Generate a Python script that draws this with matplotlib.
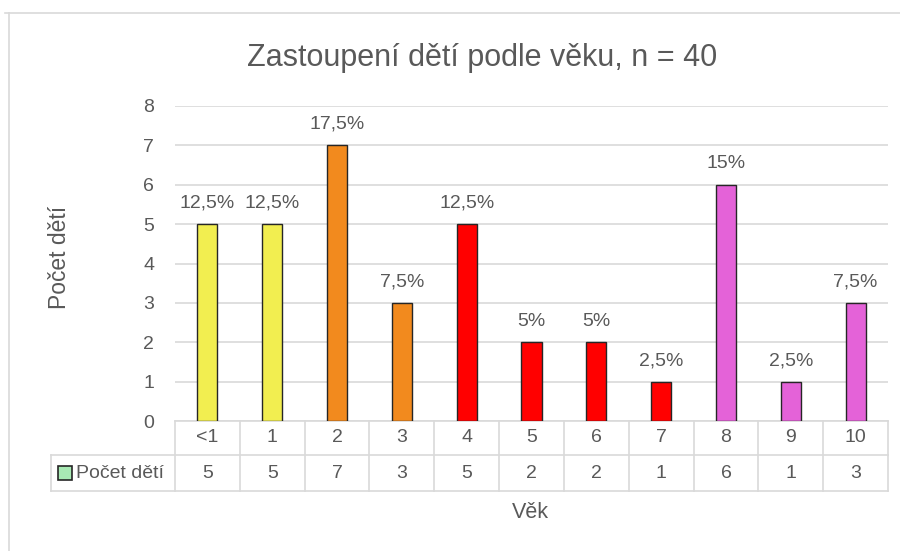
import numpy as np
import matplotlib
matplotlib.use("Agg")
import matplotlib.pyplot as plt
from matplotlib.patches import Rectangle
from matplotlib.lines import Line2D

# data
vek = ["<1", "1", "2", "3", "4", "5", "6", "7", "8", "9", "10"]
pocet = [5, 5, 7, 3, 5, 2, 2, 1, 6, 1, 3]
n_total = 40
barvy = ["#F2EE50", "#F2EE50", "#F28A1E", "#F28A1E", "#FF0000", "#FF0000",
         "#FF0000", "#FF0000", "#E462D8", "#E462D8", "#E462D8"]

plt.rcParams["font.family"] = ["Liberation Sans", "DejaVu Sans"]
txt = "#595959"
grid_c = "#d9d9d9"

fig = plt.figure(figsize=(9, 5.51), dpi=100)
W, H = 900, 551
ax = fig.add_axes([175 / W, 1 - 421 / H, (888 - 175) / W, (421 - 106) / H])

x = np.arange(len(vek))
ax.bar(x, pocet, width=0.31, color=barvy, edgecolor="#262626", linewidth=1.0, zorder=3)

for xi, v in zip(x, pocet):
    lab = f"{v / n_total * 100:.1f}".rstrip("0").rstrip(".").replace(".", ",") + "%"
    ax.text(xi, v + 0.32, lab, ha="center", va="bottom", fontsize=14, color=txt)

ax.set_xlim(-0.5, len(vek) - 0.5)
ax.set_ylim(0, 8)
ax.set_yticks(range(0, 9))
ax.tick_params(axis="y", length=0, labelsize=14, labelcolor=txt, pad=15)
ax.set_xticks([])
ax.yaxis.grid(True, color=grid_c, linewidth=1.2, zorder=0)
for s in ax.spines.values():
    s.set_visible(False)

# data table under the axis
px = 1 / 315.0
r1, r2 = -34 * px, -70 * px
left = -0.5 - (175 - 51) / 64.8
lk = dict(color=grid_c, linewidth=1.2, clip_on=False, transform=ax.get_xaxis_transform())
ax.add_line(Line2D([-0.5, 10.5], [0, 0], **lk))
ax.add_line(Line2D([left, 10.5], [r1, r1], **lk))
ax.add_line(Line2D([left, 10.5], [r2, r2], **lk))
ax.add_line(Line2D([left, left], [r1, r2], **lk))
for b in np.arange(-0.5, 11, 1):
    ax.add_line(Line2D([b, b], [0, r2], **lk))
tr = ax.get_xaxis_transform()
for xi, lab, v in zip(x, vek, pocet):
    ax.text(xi, r1 / 2, lab, ha="center", va="center", fontsize=14, color=txt, transform=tr)
    ax.text(xi, (r1 + r2) / 2, str(v), ha="center", va="center", fontsize=14, color=txt, transform=tr)
ax.add_patch(Rectangle((left + 0.11, (r1 + r2) / 2 - 7 * px), 0.21, 14 * px, facecolor="#A8EAB4",
                       edgecolor="#262626", linewidth=1.2, clip_on=False, transform=tr))
ax.text(left + 0.39, (r1 + r2) / 2, "Počet dětí", ha="left", va="center", fontsize=14,
        color=txt, transform=tr)

fig.text(482 / W, 1 - 58 / H, "Zastoupení dětí podle věku, n = 40", ha="center", va="center",
         fontsize=22, color=txt)
fig.text(530 / W, 1 - 512 / H, "Věk", ha="center", va="center", fontsize=15.5, color=txt)
fig.text(60 / W, 1 - 257 / H, "Počet dětí", ha="center", va="center", fontsize=16.5, color=txt,
         rotation=90)

# outer chart frame
fig.add_artist(Line2D([5 / W, 1], [1 - 13 / H, 1 - 13 / H], color=grid_c, linewidth=1.2))
fig.add_artist(Line2D([8.5 / W, 8.5 / W], [0, 1 - 13 / H], color=grid_c, linewidth=1.2))

fig.savefig("out.png", dpi=100)
